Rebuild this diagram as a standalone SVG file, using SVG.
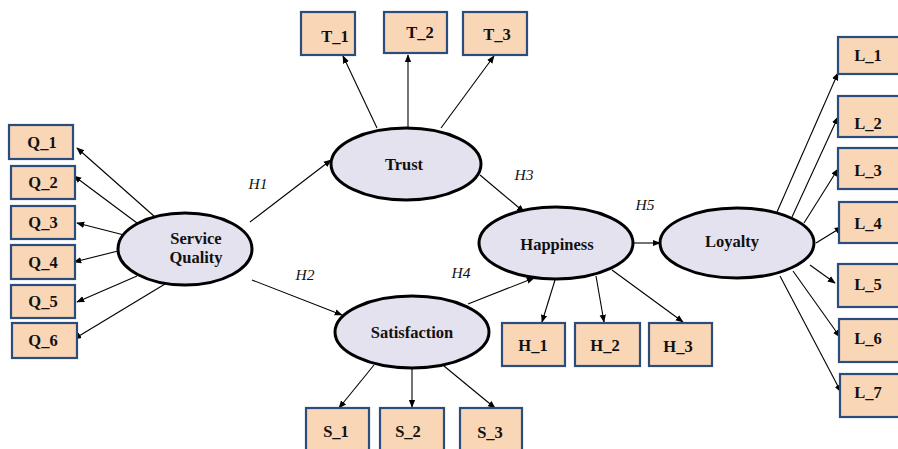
<svg xmlns="http://www.w3.org/2000/svg" width="898" height="449" viewBox="0 0 898 449">
<style>
.box{fill:#f9d6b6;stroke:#2b4d7e;stroke-width:2.2}
.lat{fill:#e4e2ef;stroke:#000;stroke-width:3}
.t{font-family:"Liberation Serif","Times New Roman",serif;font-weight:bold;font-size:16.5px;text-anchor:middle;fill:#111}
.h{font-family:"Liberation Serif","Times New Roman",serif;font-style:italic;font-size:15.5px;text-anchor:middle;fill:#111}
.c{stroke:#000;stroke-width:1.1;fill:none;marker-end:url(#a)}
</style>
<defs>
<marker id="a" viewBox="0 0 10 10" refX="9" refY="5" markerWidth="8" markerHeight="8" markerUnits="userSpaceOnUse" orient="auto">
<path d="M0,1 L10,5 L0,9 Z" fill="#000"/>
</marker>
</defs>
<rect width="898" height="449" fill="#fff"/>
<g id="connectors">
<line class="c" x1="155" y1="217" x2="77" y2="148"/>
<line class="c" x1="137" y1="223" x2="74" y2="176"/>
<line class="c" x1="124" y1="235" x2="77" y2="223"/>
<line class="c" x1="118" y1="251" x2="74" y2="262"/>
<line class="c" x1="137" y1="276" x2="77" y2="302"/>
<line class="c" x1="165" y1="284" x2="74" y2="339"/>
<line class="c" x1="250" y1="222" x2="331" y2="160"/>
<line class="c" x1="252" y1="280" x2="342" y2="315"/>
<line class="c" x1="377" y1="128" x2="343" y2="56"/>
<line class="c" x1="408" y1="128" x2="408" y2="55"/>
<line class="c" x1="441" y1="128" x2="494" y2="56"/>
<line class="c" x1="480" y1="175" x2="524" y2="212"/>
<line class="c" x1="374" y1="365" x2="339" y2="408"/>
<line class="c" x1="412" y1="367" x2="412" y2="407"/>
<line class="c" x1="444" y1="366" x2="495" y2="408"/>
<line class="c" x1="468" y1="304" x2="534" y2="278"/>
<line class="c" x1="555" y1="280" x2="542" y2="322"/>
<line class="c" x1="596" y1="276" x2="604" y2="322"/>
<line class="c" x1="612" y1="270" x2="683" y2="322"/>
<line class="c" x1="633" y1="243" x2="660" y2="243"/>
<line class="c" x1="777" y1="212" x2="838" y2="73"/>
<line class="c" x1="792" y1="217" x2="838" y2="117"/>
<line class="c" x1="804" y1="223" x2="838" y2="169"/>
<line class="c" x1="816" y1="243" x2="842" y2="227"/>
<line class="c" x1="810" y1="265" x2="835" y2="283"/>
<line class="c" x1="793" y1="271" x2="840" y2="337"/>
<line class="c" x1="780" y1="276" x2="841" y2="392"/>
<text class="h" x="258" y="189">H1</text>
<text class="h" x="305" y="280">H2</text>
<text class="h" x="524" y="180">H3</text>
<text class="h" x="461" y="278">H4</text>
<text class="h" x="645" y="210">H5</text>
</g>
<g id="SQ"><ellipse class="lat" cx="185" cy="249" rx="67" ry="36"/><text class="t" x="196" y="244">Service</text><text class="t" x="196" y="263">Quality</text></g>
<g id="Trust"><ellipse class="lat" cx="406" cy="164" rx="75" ry="36"/><text class="t" x="404" y="170">Trust</text></g>
<g id="Satisfaction"><ellipse class="lat" cx="412" cy="332" rx="77" ry="36"/><text class="t" x="412" y="338">Satisfaction</text></g>
<g id="Happiness"><ellipse class="lat" cx="556" cy="243" rx="77" ry="36"/><text class="t" x="557" y="250">Happiness</text></g>
<g id="Loyalty"><ellipse class="lat" cx="737" cy="243" rx="77" ry="35"/><text class="t" x="732" y="247">Loyalty</text></g>
<g id="Q_1"><rect class="box" x="9" y="125" width="64" height="34"/><text class="t" x="42" y="148">Q_1</text></g>
<g id="Q_2"><rect class="box" x="11" y="166" width="64" height="33"/><text class="t" x="43" y="188">Q_2</text></g>
<g id="Q_3"><rect class="box" x="11" y="206" width="64" height="33"/><text class="t" x="43" y="228">Q_3</text></g>
<g id="Q_4"><rect class="box" x="11" y="245" width="64" height="34"/><text class="t" x="43" y="268">Q_4</text></g>
<g id="Q_5"><rect class="box" x="11" y="285" width="64" height="33"/><text class="t" x="43" y="307">Q_5</text></g>
<g id="Q_6"><rect class="box" x="12" y="323" width="65" height="35"/><text class="t" x="43" y="346">Q_6</text></g>
<g id="T_1"><rect class="box" x="301" y="12" width="54" height="43"/><text class="t" x="335" y="42">T_1</text></g>
<g id="T_2"><rect class="box" x="384" y="12" width="63" height="41"/><text class="t" x="420" y="38">T_2</text></g>
<g id="T_3"><rect class="box" x="463" y="12" width="64" height="43"/><text class="t" x="497" y="40">T_3</text></g>
<g id="S_1"><rect class="box" x="306" y="408" width="63" height="46"/><text class="t" x="336" y="437">S_1</text></g>
<g id="S_2"><rect class="box" x="380" y="408" width="64" height="46"/><text class="t" x="408" y="437">S_2</text></g>
<g id="S_3"><rect class="box" x="460" y="408" width="62" height="46"/><text class="t" x="490" y="438">S_3</text></g>
<g id="H_1"><rect class="box" x="502" y="323" width="63" height="43"/><text class="t" x="533" y="351">H_1</text></g>
<g id="H_2"><rect class="box" x="575" y="323" width="65" height="43"/><text class="t" x="605" y="351">H_2</text></g>
<g id="H_3"><rect class="box" x="649" y="323" width="63" height="43"/><text class="t" x="678" y="352">H_3</text></g>
<g id="L_1"><rect class="box" x="838" y="37" width="75" height="37"/><text class="t" x="868" y="61">L_1</text></g>
<g id="L_2"><rect class="box" x="838" y="96" width="75" height="41"/><text class="t" x="868" y="129">L_2</text></g>
<g id="L_3"><rect class="box" x="838" y="148" width="75" height="41"/><text class="t" x="868" y="176">L_3</text></g>
<g id="L_4"><rect class="box" x="839" y="202" width="75" height="41"/><text class="t" x="868" y="229">L_4</text></g>
<g id="L_5"><rect class="box" x="838" y="264" width="75" height="43"/><text class="t" x="868" y="290">L_5</text></g>
<g id="L_6"><rect class="box" x="839" y="319" width="75" height="43"/><text class="t" x="868" y="344">L_6</text></g>
<g id="L_7"><rect class="box" x="840" y="374" width="75" height="43"/><text class="t" x="868" y="398">L_7</text></g>
</svg>
